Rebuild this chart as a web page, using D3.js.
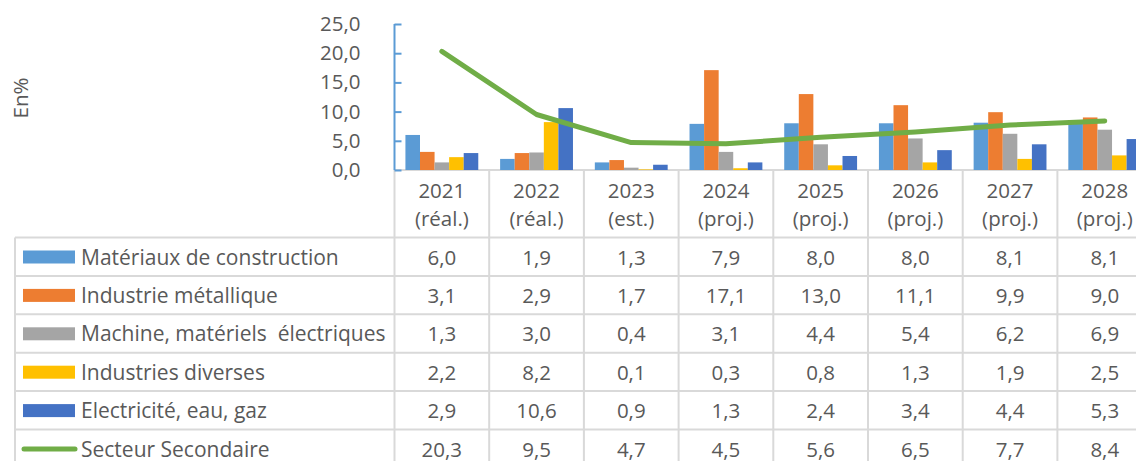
<!DOCTYPE html>
<html><head><meta charset="utf-8">
<script src="https://cdn.jsdelivr.net/npm/d3@7"></script>
<style>html,body{margin:0;padding:0;background:#fff;overflow:hidden}svg{display:block}</style>
</head><body>
<svg id="c" width="1136" height="461"></svg>
<script>
const years = ["2021","2022","2023","2024","2025","2026","2027","2028"];
const subLabels = ["(réal.)","(réal.)","(est.)","(proj.)","(proj.)","(proj.)","(proj.)","(proj.)"];
const barSeriesNames = ["Matériaux de construction","Industrie métallique","Machine, matériels  électriques","Industries diverses","Electricité, eau, gaz"];
const materiaux   = [6.0, 1.9, 1.3, 7.9, 8.0, 8.0, 8.1, 8.1];
const metallique  = [3.1, 2.9, 1.7, 17.1, 13.0, 11.1, 9.9, 9.0];
const machine     = [1.3, 3.0, 0.4, 3.1, 4.4, 5.4, 6.2, 6.9];
const diverses    = [2.2, 8.2, 0.1, 0.3, 0.8, 1.3, 1.9, 2.5];
const electricite = [2.9, 10.6, 0.9, 1.3, 2.4, 3.4, 4.4, 5.3];
const lineName = "Secteur Secondaire";
const secondaire  = [20.3, 9.5, 4.7, 4.5, 5.6, 6.5, 7.7, 8.4];
const yTicks = [0, 5, 10, 15, 20, 25];
const yLabel = "En%";

const barSeries = [materiaux, metallique, machine, diverses, electricite];
const colors = ["#5B9BD5","#ED7D31","#A5A5A5","#FFC000","#4472C4"];
const lineColor = "#70AD47";
const textColor = "#595959";
const gridColor = "#D9D9D9";
const FONT = "'Open Sans', sans-serif";
const FS = 20.5;
const FSL = 21;

const svg = d3.select("#c");
const plotLeft = 394.5, colW = 94.7;
const plotRight = plotLeft + colW * years.length;
const yTop = 24, yBottom = 170;
const tableLeft = 15, tableTop = 237.5, rowH = 38.4;

const x = d3.scaleBand().domain(years).range([plotLeft, plotRight]).paddingInner(0).paddingOuter(0);
const sub = d3.scaleBand().domain(d3.range(barSeries.length)).range([0, colW]).paddingInner(0).paddingOuter(0.75);
const y = d3.scaleLinear().domain([0, 25]).range([yBottom, yTop]);
const fmt = v => d3.format(".1f")(v).replace(".", ",");

// table grid
const g = svg.append("g").attr("stroke", gridColor).attr("stroke-width", 2).attr("fill","none");
g.append("line").attr("x1", plotLeft).attr("x2", plotRight).attr("y1", yBottom).attr("y2", yBottom);
const nRows = barSeries.length + 1;
for (let r = 0; r <= nRows; r++) {
  g.append("line").attr("x1", tableLeft).attr("x2", plotRight).attr("y1", tableTop + r*rowH).attr("y2", tableTop + r*rowH);
}
g.append("line").attr("x1", tableLeft).attr("x2", tableLeft).attr("y1", tableTop).attr("y2", tableTop + nRows*rowH);
years.forEach((yr, i) => {
  g.append("line").attr("x1", x(yr)).attr("x2", x(yr)).attr("y1", yBottom).attr("y2", tableTop + nRows*rowH);
});
g.append("line").attr("x1", plotRight).attr("x2", plotRight).attr("y1", yBottom).attr("y2", tableTop + nRows*rowH);

// bars
barSeries.forEach((vals, s) => {
  svg.append("g").selectAll("rect").data(vals).join("rect")
    .attr("x", (d, i) => x(years[i]) + sub(s))
    .attr("width", sub.bandwidth())
    .attr("y", d => y(d))
    .attr("height", d => y(0) - y(d))
    .attr("fill", colors[s]);
});

// line
const line = d3.line().x((d, i) => x(years[i]) + x.bandwidth()/2).y(d => y(d));
svg.append("path").datum(secondaire).attr("d", line)
  .attr("fill", "none").attr("stroke", lineColor).attr("stroke-width", 5)
  .attr("stroke-linecap", "round").attr("stroke-linejoin", "round");

// y axis
const axis = d3.axisLeft(y).tickValues(yTicks).tickFormat(fmt).tickSizeInner(-7).tickSizeOuter(-7).tickPadding(34);
const ag = svg.append("g").attr("transform", `translate(${plotLeft},0)`).call(axis);
ag.selectAll("path, line").attr("stroke", "#5B9BD5").attr("stroke-width", 2);
ag.select("path.domain").attr("d", `M0,${yTop}V${yBottom}`);
ag.selectAll("text").attr("fill", textColor).style("font-family", FONT).style("font-size", FS + "px");

// y label
svg.append("text").attr("transform", "translate(27.5,98) rotate(-90)")
  .attr("text-anchor", "middle").attr("fill", textColor)
  .style("font-family", FONT).style("font-size", FS + "px").text(yLabel);

// category header
const hdr = svg.append("g").attr("fill", textColor).attr("text-anchor", "middle")
  .style("font-family", FONT).style("font-size", FS + "px");
years.forEach((yr, i) => {
  const cx = x(yr) + x.bandwidth()/2;
  hdr.append("text").attr("x", cx).attr("y", 197.5).text(yr);
  hdr.append("text").attr("x", cx).attr("y", 226).text(subLabels[i]);
});

// table rows
const allSeries = barSeries.concat([secondaire]);
const allNames = barSeriesNames.concat([lineName]);
allSeries.forEach((vals, r) => {
  const top = tableTop + r*rowH;
  if (r < barSeries.length) {
    svg.append("rect").attr("x", 23).attr("y", top + 13).attr("width", 52).attr("height", 13).attr("fill", colors[r]);
  } else {
    svg.append("line").attr("x1", 24).attr("x2", 75).attr("y1", top + 19.5).attr("y2", top + 19.5)
      .attr("stroke", lineColor).attr("stroke-width", 5).attr("stroke-linecap", "round");
  }
  svg.append("text").attr("x", 81).attr("y", top + 27).attr("fill", textColor)
    .style("font-family", FONT).style("font-size", FSL + "px").style("white-space","pre")
    .attr("xml:space","preserve").text(allNames[r]);
  svg.append("g").selectAll("text").data(vals).join("text")
    .attr("x", (d, i) => x(years[i]) + x.bandwidth()/2)
    .attr("y", top + 27).attr("text-anchor", "middle").attr("fill", textColor)
    .style("font-family", FONT).style("font-size", FS + "px").text(d => fmt(d));
});
</script>
</body></html>
